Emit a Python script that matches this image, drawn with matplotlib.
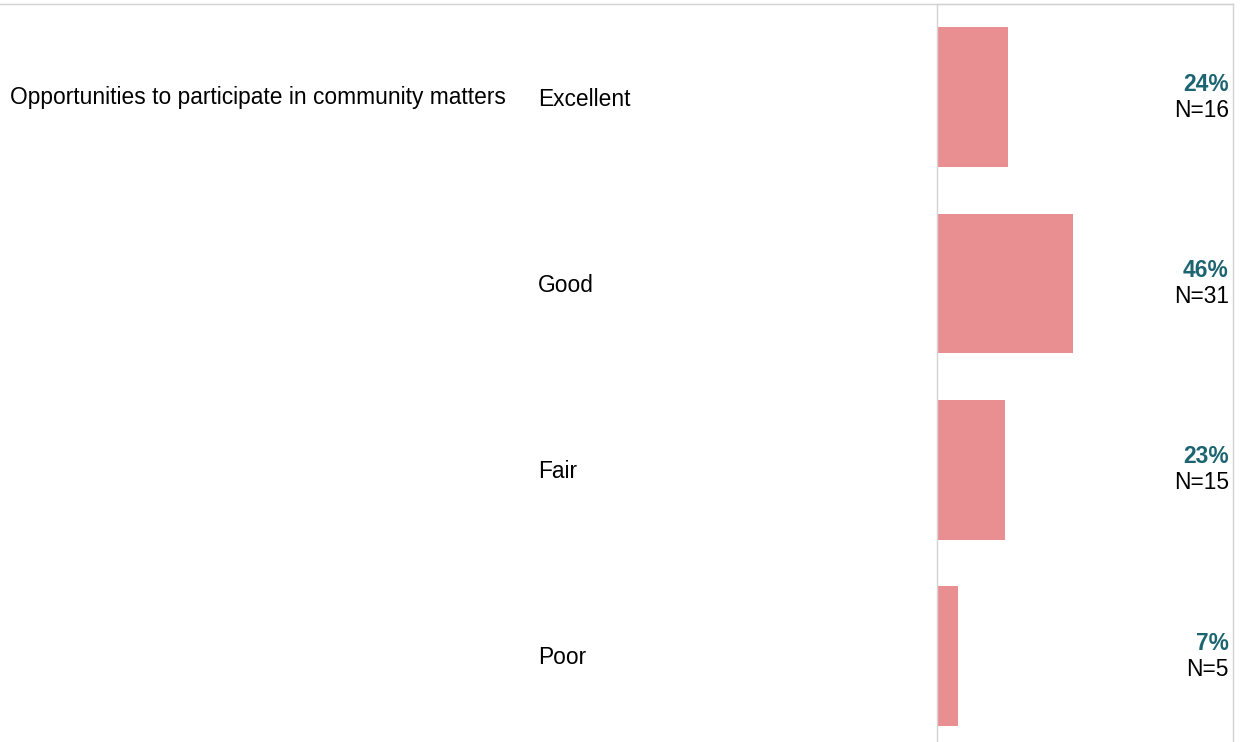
import matplotlib.pyplot as plt
from matplotlib.lines import Line2D
from matplotlib.transforms import blended_transform_factory

question = "Opportunities to participate in community matters"
ratings = ["Excellent", "Good", "Fair", "Poor"]
percents = [24, 46, 23, 7]
counts = [16, 31, 15, 5]

bar_color = "#e98f92"
pct_color = "#1b6470"
grid_color = "#d3d3d3"

plt.rcParams['font.family'] = ['Liberation Sans', 'DejaVu Sans']

fig = plt.figure(figsize=(12.41, 7.42), dpi=100)
W, H = 1241, 742
left, right = 937 / W, 1233 / W
top = 1 - 4 / H
ax = fig.add_axes([left, 0, right - left, top])

ypos = list(range(len(ratings)))
ax.barh(ypos, percents, height=0.75, color=bar_color)
ax.set_xlim(0, 100)
row_px = 186.3
ax.set_ylim(-0.5 + (H - 4) / row_px, -0.5)

ax.set_xticks([])
ax.set_yticks([])
for s in ["left", "right", "top"]:
    ax.spines[s].set_color(grid_color)
    ax.spines[s].set_linewidth(1)
ax.spines["bottom"].set_visible(False)

# top border across the whole row
fig.add_artist(Line2D([0, right], [top, top], color=grid_color, lw=1,
                      transform=fig.transFigure))

fig_y = blended_transform_factory(fig.transFigure, ax.transData)
ax_y = blended_transform_factory(ax.transAxes, ax.transData)

fs = 16.4
ax.text(10 / W, 0, question, transform=fig_y, ha="left", va="center",
        fontsize=fs, clip_on=False)
for i, (r, p, n) in enumerate(zip(ratings, percents, counts)):
    ax.text(538 / W, i + 0.01, r, transform=fig_y, ha="left", va="center",
            fontsize=fs, clip_on=False)
    ax.text(0.986, i - 0.07, f"{p}%", transform=ax_y, ha="right", va="center",
            fontsize=fs, fontweight="bold", color=pct_color)
    ax.text(0.986, i + 0.07, f"N={n}", transform=ax_y, ha="right", va="center",
            fontsize=fs, color="black")

fig.savefig("out.png", dpi=100)
